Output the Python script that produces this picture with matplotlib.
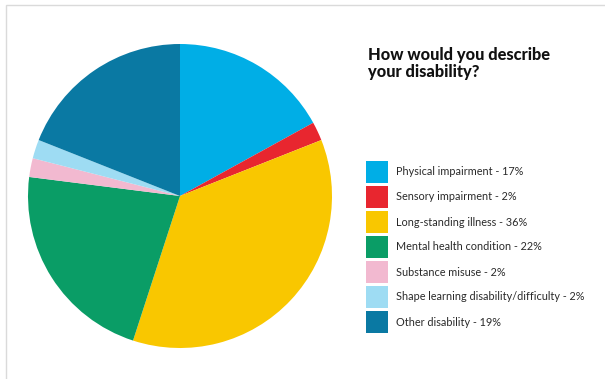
import matplotlib.pyplot as plt
from matplotlib.patches import Rectangle

# Survey responses: how respondents describe their disability
categories = [
    'Physical impairment',
    'Sensory impairment',
    'Long-standing illness',
    'Mental health condition',
    'Substance misuse',
    'Shape learning disability/difficulty',
    'Other disability',
]
shares = [17, 2, 36, 22, 2, 2, 19]
colors = ['#00AEE6', '#E8262F', '#F9C700', '#0A9D66', '#F2B9D0', '#9EDCF3', '#0A79A3']

W, H = 605, 379
fig = plt.figure(figsize=(W / 100, H / 100), dpi=100)
fig.patch.set_facecolor('white')

# faint card outline along the top and left edges
fig.add_artist(Rectangle((6 / W, -0.1), 1.2, 1.1 - 5 / H,
                         transform=fig.transFigure, fill=False,
                         edgecolor='#DADADA', linewidth=1.0))

# pie centred at (180, 196) px with radius ~152 px
cx, cy, r = 180, 196, 152
ax = fig.add_axes([(cx - r) / W, (H - cy - r) / H, 2 * r / W, 2 * r / H])
ax.pie(shares, colors=colors, startangle=90, counterclock=False,
       wedgeprops=dict(linewidth=0))
ax.set_xlim(-1, 1)
ax.set_ylim(-1, 1)
ax.set_aspect('equal')
ax.axis('off')

# title (baseline of the last line at y=77 px)
fig.text(368 / W, 1 - 77 / H, 'How would you describe\nyour disability?',
         fontsize=11.8, fontweight='black', family='Lato', color='#111111',
         ha='left', va='baseline', linespacing=1.1)

# legend drawn as squares + labels
sq = 22
for i, (cat, val, col) in enumerate(zip(categories, shares, colors)):
    top = 161 + i * 25
    fig.add_artist(Rectangle((366 / W, 1 - (top + sq) / H), sq / W, sq / H,
                             transform=fig.transFigure, facecolor=col,
                             edgecolor='none'))
    fig.text(396 / W, 1 - (top + sq / 2) / H, f'{cat} - {val}%',
             fontsize=7.8, family='Lato', color='#2A2A2A',
             ha='left', va='center')

fig.savefig('out.png', dpi=100, facecolor='white')
